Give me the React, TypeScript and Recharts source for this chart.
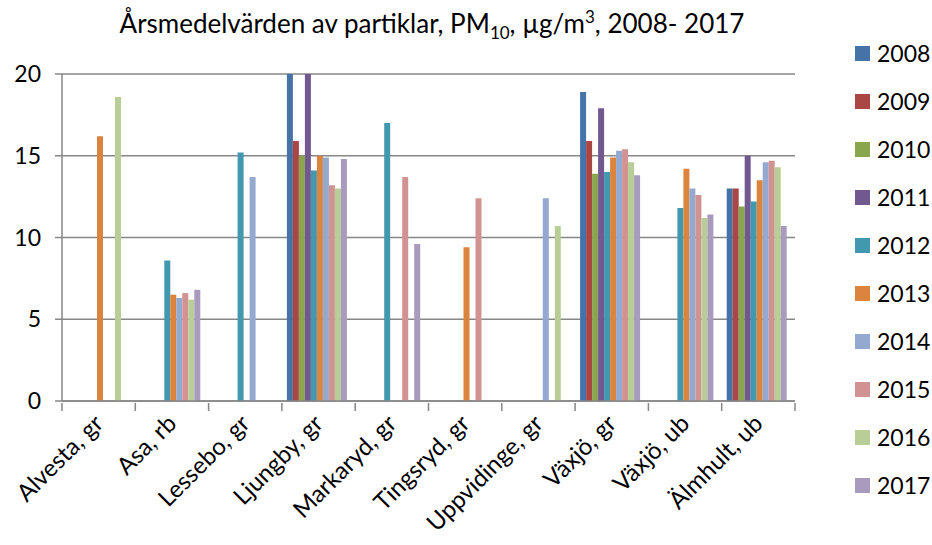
import React from "react"
import { BarChart, Bar, XAxis, YAxis, CartesianGrid, Legend } from "recharts"

const categories = [
  "Alvesta, gr",
  "Asa, rb",
  "Lessebo, gr",
  "Ljungby, gr",
  "Markaryd, gr",
  "Tingsryd, gr",
  "Uppvidinge, gr",
  "Växjö, gr",
  "Växjö, ub",
  "Älmhult, ub",
]

const years = ["2008", "2009", "2010", "2011", "2012", "2013", "2014", "2015", "2016", "2017"]

const colors = [
  "#4572A7",
  "#AA4643",
  "#89A54E",
  "#71588F",
  "#4198AF",
  "#DB843D",
  "#93A9CF",
  "#D19392",
  "#B9CD96",
  "#A99BBD",
]

// one list per year, same order as categories (null = no measurement)
const v2008 = [null, null, null, 20, null, null, null, 18.9, null, 13.0]
const v2009 = [null, null, null, 15.9, null, null, null, 15.9, null, 13.0]
const v2010 = [null, null, null, 15.0, null, null, null, 13.9, null, 11.9]
const v2011 = [null, null, null, 20, null, null, null, 17.9, null, 15.0]
const v2012 = [null, 8.6, 15.2, 14.1, 17.0, null, null, 14.0, 11.8, 12.2]
const v2013 = [16.2, 6.5, null, 15.0, null, 9.4, null, 14.9, 14.2, 13.5]
const v2014 = [null, 6.3, 13.7, 14.9, null, null, 12.4, 15.3, 13.0, 14.6]
const v2015 = [null, 6.6, null, 13.2, 13.7, 12.4, null, 15.4, 12.6, 14.7]
const v2016 = [18.6, 6.2, null, 13.0, null, null, 10.7, 14.6, 11.2, 14.3]
const v2017 = [null, 6.8, null, 14.8, 9.6, null, null, 13.8, 11.4, 10.7]

const series = [v2008, v2009, v2010, v2011, v2012, v2013, v2014, v2015, v2016, v2017]

const yTicks = [0, 5, 10, 15, 20]

const data = categories.map((name, i) => {
  const row: Record<string, string | number | null> = { name }
  years.forEach((y, j) => {
    row[y] = series[j][i]
  })
  return row
})

const FONT = "Lato, 'Open Sans', sans-serif"
const W = 932
const H = 545
const LEGEND_W = 80
const M = { top: 74, right: 137 - LEGEND_W, bottom: 0, left: 0 }
const X_H = 144
const Y_W = 62
const PLOT_W = 733
const GRAY = "#878787"

const XTick = (props: any) => {
  const { x, y, payload, index } = props
  const half = PLOT_W / categories.length / 2
  const tx = x + 6
  const ty = y + 22
  return (
    <g>
      <line x1={x - half} x2={x - half} y1={y} y2={y + 8} stroke={GRAY} strokeWidth={1.5} />
      {index === categories.length - 1 && (
        <line x1={x + half} x2={x + half} y1={y} y2={y + 8} stroke={GRAY} strokeWidth={1.5} />
      )}
      <text
        x={tx}
        y={ty}
        textAnchor="end"
        fontSize={24}
        fontFamily={FONT}
        fill="#000"
        transform={`rotate(-45, ${tx}, ${ty})`}
      >
        {payload.value}
      </text>
    </g>
  )
}

const LegendList = (props: any) => {
  const { payload } = props
  return (
    <div style={{ fontFamily: FONT, fontSize: 23 }}>
      {payload.map((p: any) => (
        <div key={p.value} style={{ display: "flex", alignItems: "center", height: 48 }}>
          <span style={{ width: 15, height: 15, background: p.color, marginRight: 7 }} />
          <span>{p.value}</span>
        </div>
      ))}
    </div>
  )
}

export default function App() {
  return (
    <div style={{ position: "absolute", left: 0, top: 0, width: W, height: H, background: "#fff" }}>
      <div
        style={{
          position: "absolute",
          left: 0,
          width: 864,
          top: 6,
          textAlign: "center",
          fontFamily: FONT,
          fontSize: 26,
          color: "#000",
          whiteSpace: "nowrap",
        }}
      >
        Årsmedelvärden av partiklar, PM<sub style={{ fontSize: 17 }}>10</sub>, µg/m
        <sup style={{ fontSize: 17 }}>3</sup>, 2008- 2017
      </div>
      <BarChart
        width={W}
        height={H}
        data={data}
        margin={M}
        barGap={0}
        barCategoryGap={5}
      >
        <CartesianGrid vertical={false} stroke={GRAY} strokeWidth={1.5} />
        <XAxis
          dataKey="name"
          interval={0}
          axisLine={{ stroke: GRAY, strokeWidth: 1.5 }}
          tickLine={false}
          tickSize={0}
          tick={<XTick />}
          height={X_H}
        />
        <YAxis
          width={Y_W}
          domain={[0, 20]}
          ticks={yTicks}
          allowDataOverflow
          axisLine={{ stroke: GRAY, strokeWidth: 1.5 }}
          tickLine={{ stroke: GRAY, strokeWidth: 1.5 }}
          tickSize={7}
          tickMargin={14}
          tick={{ fontSize: 23, fontFamily: FONT, fill: "#000" }}
        />
        <Legend
          layout="vertical"
          align="right"
          verticalAlign="top"
          wrapperStyle={{ top: 29, left: 855, width: LEGEND_W }}
          content={<LegendList />}
        />
        {years.map((y, j) => (
          <Bar key={y} dataKey={y} fill={colors[j]} isAnimationActive={false} />
        ))}
      </BarChart>
    </div>
  )
}
